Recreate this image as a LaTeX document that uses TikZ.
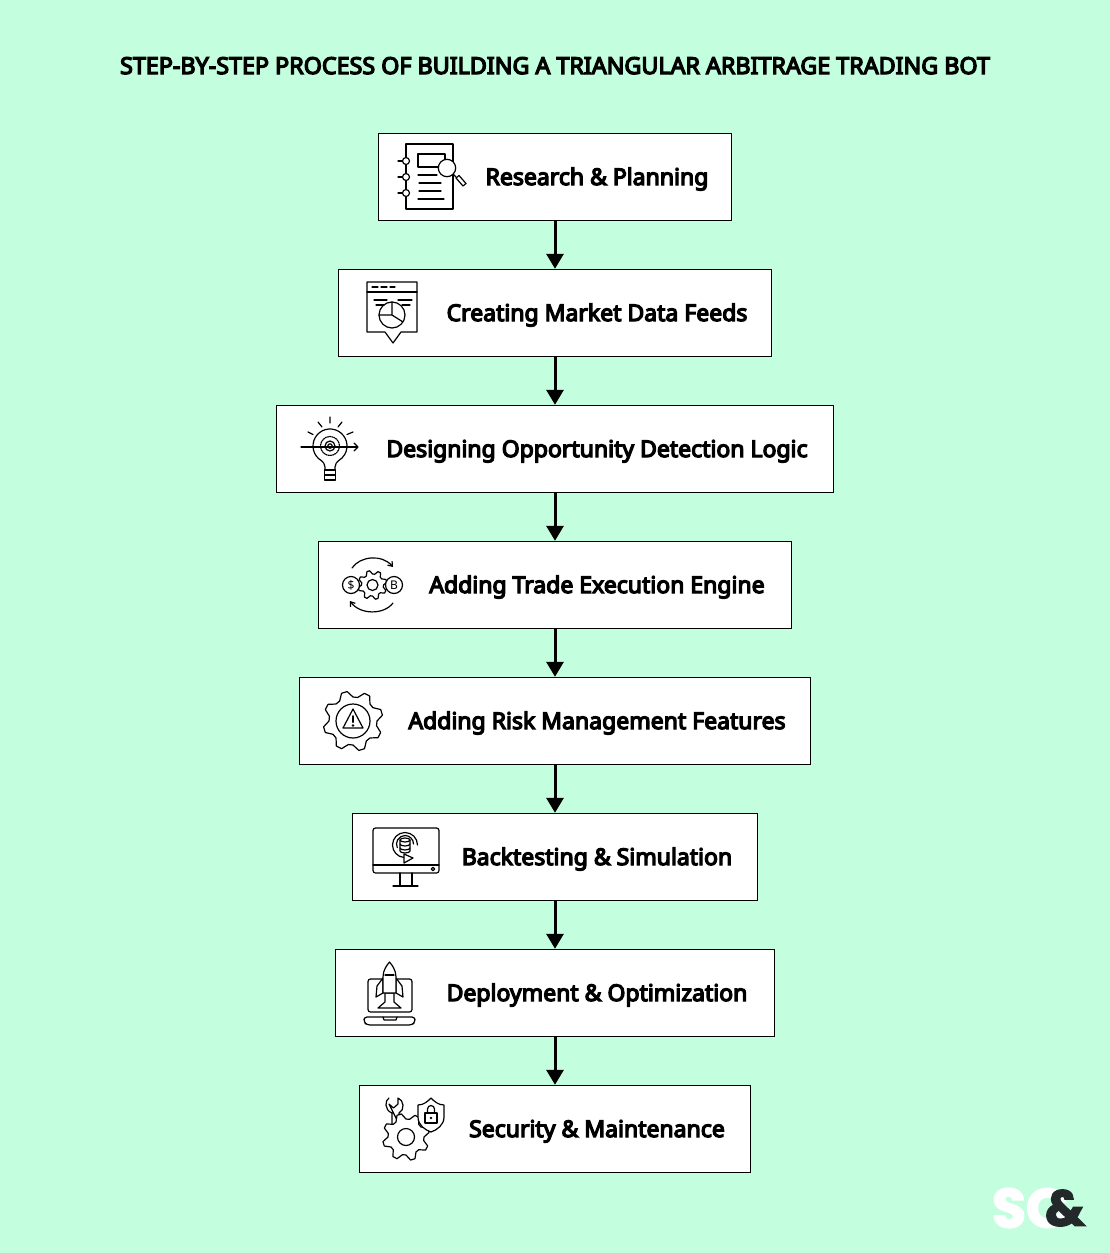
\documentclass[tikz,border=0pt]{standalone}
\usepackage{fontspec}
\setmainfont{Noto Sans}
\newfontfamily\boldlabel[FakeBold=5.5]{Noto Sans}
\newfontfamily\logofont[FakeBold=3]{Poppins}
\usetikzlibrary{arrows.meta}
\definecolor{mintbg}{RGB}{195,255,222}
\definecolor{logodark}{RGB}{35,40,42}

% gear outline: centre x, centre y, outer radius, inner radius, teeth
\newcommand{\gearicon}[5]{
    \draw[icon, fill=white, shift={(#1,#2)}, rotate=22.5]
        plot[samples={int(4*#5+1)}, domain=0:360]
        (\x:{mod(round(\x*#5/90),4)<2 ? #3 : #4}) -- cycle;
}

\begin{document}
\begin{tikzpicture}[
    x=1pt, y=-1pt,
    stepbox/.style={rectangle, draw=black, line width=0.9pt, fill=white,
        minimum height=87.4pt, inner sep=0pt},
    steplabel/.style={inner sep=0pt, anchor=base, font=\boldlabel\fontsize{23}{26}\selectfont},
    flow/.style={line width=3pt, draw=black, -{Triangle[width=17pt,length=15pt]}},
    icon/.style={line width=1.2pt, black, line join=round, line cap=round}
]
    \useasboundingbox (0,0) rectangle (1110,1253);
    \fill[mintbg] (0,0) rectangle (1110,1253);

    \node[font=\boldlabel\fontsize{23.3}{26}\selectfont, inner sep=0pt, anchor=base] (title) at (555,74)
        {STEP-BY-STEP PROCESS OF BUILDING A TRIANGULAR ARBITRAGE TRADING BOT};

    % boxes
    \node[stepbox, minimum width=353.4pt] (research) at (555,177) {};
    \node[stepbox, minimum width=433.4pt] (feeds) at (555,313) {};
    \node[stepbox, minimum width=557.4pt] (detection) at (555,449) {};
    \node[stepbox, minimum width=473.4pt] (execution) at (555,585) {};
    \node[stepbox, minimum width=511.4pt] (risk) at (555,721) {};
    \node[stepbox, minimum width=405.4pt] (backtest) at (555,857) {};
    \node[stepbox, minimum width=439.4pt] (deploy) at (555,993) {};
    \node[stepbox, minimum width=391.4pt] (security) at (555,1129) {};

    \node[steplabel] (researchtext) at (597,185) {Research \& Planning};
    \node[steplabel] (feedstext) at (597,321) {Creating Market Data Feeds};
    \node[steplabel] (detectiontext) at (597,457) {Designing Opportunity Detection Logic};
    \node[steplabel] (executiontext) at (597,593) {Adding Trade Execution Engine};
    \node[steplabel] (risktext) at (597,729) {Adding Risk Management Features};
    \node[steplabel] (backtesttext) at (597,865) {Backtesting \& Simulation};
    \node[steplabel] (deploytext) at (597,1001) {Deployment \& Optimization};
    \node[steplabel] (securitytext) at (597,1137) {Security \& Maintenance};

    \draw[flow] (research) -- (feeds);
    \draw[flow] (feeds) -- (detection);
    \draw[flow] (detection) -- (execution);
    \draw[flow] (execution) -- (risk);
    \draw[flow] (risk) -- (backtest);
    \draw[flow] (backtest) -- (deploy);
    \draw[flow] (deploy) -- (security);

    % research icon
    \draw[icon] (406,144) rectangle (453,209);
    \foreach \y in {161,177,193} {
        \draw[icon] (398,\y) -- (402,\y);
        \draw[icon, fill=white] (406,\y) circle (3.5);
    }
    \draw[icon] (418,154) rectangle (445,167);
    \draw[icon] (418,175) -- (437,175);
    \draw[icon] (419,183) -- (441,183);
    \draw[icon] (419,191) -- (441,191);
    \draw[icon] (418,199) -- (444,199);
    \draw[icon, fill=white] (447,168) circle (8.7);
    \draw[icon] (453,174) -- (456,177);
    \draw[icon] (456,178) -- (463,186) -- (466,183.5) -- (459,175.5) -- cycle;

    % data feed icon
    \draw[icon] (367,282) -- (417,282) -- (417,332) -- (401,332) -- (393,343) -- (385,332) -- (367,332) -- cycle;
    \draw[icon] (367,292) -- (417,292);
    \draw[icon] (372,287) -- (378,287) (381,287) -- (387,287) (390,287) -- (395,287);
    \draw[icon] (374,300) -- (387,300) (398,300) -- (412,300);
    \draw[icon] (376,305) -- (384,305) (402,305) -- (410,305);
    \draw[icon] (392,315) circle (13);
    \draw[icon] (392,302) -- (392,315) -- (403,322) (392,315) -- (379,315);

    % idea icon
    \draw[icon] (325,470) -- (325,467) .. controls (325,464) and (323,462) .. (321.5,460.7)
        arc[start angle=120, end angle=420, radius=17]
        .. controls (337,462) and (335,464) .. (335,467) -- (335,470) -- cycle;
    \draw[icon] (324.5,470) rectangle (335.5,480);
    \draw[icon] (324.5,475) -- (335.5,475);
    \draw[icon, densely dotted] (330,446) circle (9.5);
    \draw[icon] (330,446) circle (5);
    \draw[icon] (330,446) circle (2.2);
    \draw[icon] (301,447) -- (357,447);
    \draw[icon] (354,443) -- (358,447) -- (354,451);
    \draw[icon] (330,417) -- (330,423) (318,422) -- (322,427) (342,422) -- (338,427);
    \draw[icon] (308,432) -- (313,434.5) (353,432) -- (347,434.5);

    % execution icon
    \gearicon{372.5}{585}{14.5}{11}{8}
    \draw[icon] (372.5,585) circle (5.5);
    \draw[icon, fill=white] (351,585) circle (8.5);
    \draw[icon, fill=white] (394,585) circle (8.5);
    \node[inner sep=0pt, font=\fontsize{12}{12}\selectfont] (dollar) at (351,585) {\$};
    \node[inner sep=0pt, font=\fontsize{12}{12}\selectfont] (coin) at (394,585) {B};
    \draw[icon, -{Straight Barb[length=4pt,width=6pt]}] (352,568) .. controls (360,556) and (382,554) .. (393,567);
    \draw[icon, -{Straight Barb[length=4pt,width=6pt]}] (393,603) .. controls (384,615) and (360,615) .. (350,601);

    % risk icon
    \gearicon{353}{721}{30}{24}{8}
    \draw[icon] (353,721) circle (17);
    \draw[icon] (353,709) -- (363,728) -- (343,728) -- cycle;
    \draw[icon, line width=2pt] (353,716) -- (353,722);
    \fill[black] (353,725.5) circle (1.3);

    % backtest icon
    \draw[icon, rounded corners=2.5pt] (373,828) rectangle (439,873);
    \draw[icon] (373,865) -- (439,865);
    \draw[icon] (433,869) circle (1.7);
    \draw[icon] (400,873) -- (400,886) (412,873) -- (412,886);
    \draw[icon] (393,886) -- (418,886);
    \draw[icon] (400,840) -- (400,851) arc[start angle=180, end angle=0, x radius=5, y radius=2] -- (410,840);
    \draw[icon] (405,840) ellipse (5 and 2);
    \draw[icon] (400,844) arc[start angle=180, end angle=0, x radius=5, y radius=2];
    \draw[icon] (400,848) arc[start angle=180, end angle=0, x radius=5, y radius=2];
    \draw[icon] (417.5,845) arc[start angle=0, end angle=-180, radius=12.5]
        arc[start angle=180, end angle=95, radius=12.5];
    \draw[icon] (413.5,844) arc[start angle=0, end angle=-205, radius=8.5];
    \draw[icon, fill=white] (404,854) -- (413,858) -- (404,863) -- cycle;

    % deployment icon
    \draw[icon, rounded corners=2.5pt] (368,979) rectangle (412,1012);
    \draw[icon, rounded corners=3pt] (364,1017) -- (415,1017) -- (415,1022) -- (412,1025) -- (367,1025) -- (364,1022) -- cycle;
    \draw[icon] (383,1017) -- (384,1020) -- (396,1020) -- (397,1017);
    \draw[icon, fill=white] (378,1008) -- (385,1002) -- (385,993) -- (394,993) -- (394,1002) -- (401,1008) -- cycle;
    \draw[icon, fill=white] (383,978) -- (377,986) -- (376,997) -- (383,993) -- cycle;
    \draw[icon, fill=white] (396,978) -- (402,986) -- (403,997) -- (396,993) -- cycle;
    \draw[icon, fill=white] (383,993) -- (383,977) .. controls (383,970) and (387,965) .. (389.5,962)
        .. controls (392,965) and (396,970) .. (396,977) -- (396,993) -- cycle;
    \draw[icon] (385,975) -- (394,975);

    % security icon
    \draw[icon] (389,1098) .. controls (385,1100) and (384,1110) .. (392,1113) -- (392,1124)
        (399,1124) -- (399,1113) .. controls (405,1110) and (404,1100) .. (398,1098) -- (398,1104) -- (393.5,1108) -- (389,1104) -- cycle;
    \gearicon{406}{1137}{23.5}{18}{8}
    \draw[icon] (406,1137) circle (8.5);
    \draw[icon, fill=white] (418,1105) .. controls (424,1105) and (428,1101) .. (431,1098)
        .. controls (434,1101) and (438,1105) .. (444,1105)
        -- (444,1117) .. controls (444,1125) and (437,1130) .. (431,1132)
        .. controls (425,1130) and (418,1125) .. (418,1117) -- cycle;
    \draw[icon] (425,1113) rectangle (437,1123);
    \draw[icon] (427.5,1113) -- (427.5,1109) arc[start angle=180, end angle=360, radius=3.5] -- (434.5,1113);
    \fill[black] (431,1118) circle (1.4);

    % logo
    \node[inner sep=0pt, font=\logofont\fontsize{55}{55}\selectfont\bfseries, text=white] (logosc) at (1030,1208) {SC};
    \node[inner sep=0pt, font=\logofont\fontsize{50}{50}\selectfont\bfseries, text=logodark] (logoamp) at (1065,1208) {\&};
\end{tikzpicture}
\end{document}
